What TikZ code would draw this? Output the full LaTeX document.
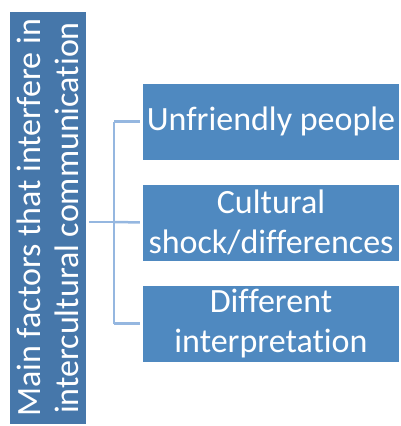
\documentclass[tikz,border=0pt]{standalone}
\usepackage{fontspec}
\setmainfont{Carlito}[Ligatures=NoCommon]
\definecolor{mainfill}{HTML}{4677AA}
\definecolor{itemfill}{HTML}{4F89C0}
\definecolor{linkblue}{HTML}{95B7E0}
\begin{document}
\begin{tikzpicture}[x=1pt,y=-1pt,
  mainbox/.style={fill=mainfill,text=white,rotate=90,minimum width=412pt,minimum height=76pt,
    inner sep=0pt,align=center,font=\fontsize{34}{38}\selectfont},
  itembox/.style={fill=itemfill,text=white,minimum width=256pt,minimum height=76pt,
    inner sep=0pt,align=center,font=\fontsize{34}{40}\selectfont},
  link/.style={draw=linkblue,line width=2.5pt}]
  \useasboundingbox (0,0) rectangle (401,426);
  \node[mainbox] (main) at (48,218) {Main factors that interfere in\\intercultural communication};
  \node[itembox] (b1) at (271,121.5) {Unfriendly people};
  \node[itembox] (b2) at (271,222.5) {Cultural\\shock/differences};
  \node[itembox] (b3) at (271,323.5) {Different\\interpretation};
  \coordinate (j) at (114,222);
  \draw[link,shorten <=3pt] (main.south |- j) -- (j);
  \draw[link,shorten >=3pt] (j |- b1.west) -- (b1.west);
  \draw[link,shorten >=3pt] (j) -- (b2.west);
  \draw[link,shorten >=3pt] (j |- b3.west) -- (b3.west);
  \draw[link] (j |- b1.west) -- (j |- b3.west);
\end{tikzpicture}
\end{document}
